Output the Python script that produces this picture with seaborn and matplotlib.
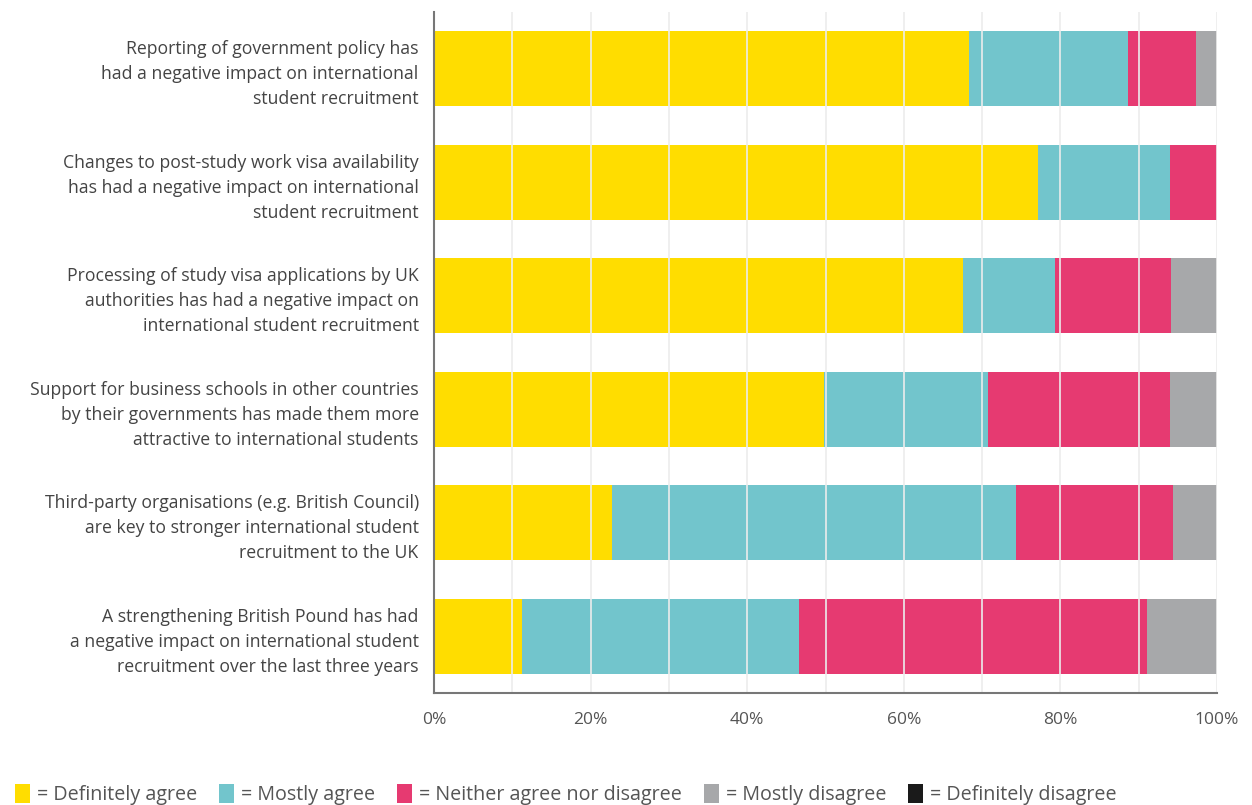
import matplotlib
matplotlib.use("Agg")
import matplotlib.pyplot as plt
from matplotlib.patches import Patch
import seaborn as sns
import pandas as pd
import numpy as np

categories = [
    "Reporting of government policy has\nhad a negative impact on international\nstudent recruitment",
    "Changes to post-study work visa availability\nhas had a negative impact on international\nstudent recruitment",
    "Processing of study visa applications by UK\nauthorities has had a negative impact on\ninternational student recruitment",
    "Support for business schools in other countries\nby their governments has made them more\nattractive to international students",
    "Third-party organisations (e.g. British Council)\nare key to stronger international student\nrecruitment to the UK",
    "A strengthening British Pound has had\na negative impact on international student\nrecruitment over the last three years",
]
series_names = ["Definitely agree", "Mostly agree", "Neither agree nor disagree",
                "Mostly disagree", "Definitely disagree"]
definitely_agree = [68.3, 77.1, 67.6, 49.8, 22.7, 11.2]
mostly_agree = [20.3, 16.9, 11.7, 21.0, 51.6, 35.4]
neither = [8.7, 6.0, 14.8, 23.2, 20.1, 44.5]
mostly_disagree = [2.7, 0.0, 5.9, 6.0, 5.6, 8.9]
definitely_disagree = [0.0, 0.0, 0.0, 0.0, 0.0, 0.0]
xticks = [0, 20, 40, 60, 80, 100]
xtick_labels = ["0%", "20%", "40%", "60%", "80%", "100%"]

colors = ["#FFDD00", "#72C5CC", "#E63A71", "#A7A8AA", "#1A1A1A"]

sns.set_theme(style="white")
plt.rcParams["font.family"] = ["Open Sans", "DejaVu Sans"]

series = [definitely_agree, mostly_agree, neither, mostly_disagree, definitely_disagree]
cum = np.zeros(len(categories))
cums = []
for s in series:
    cum = cum + np.array(s)
    cums.append(cum.copy())

fig = plt.figure(figsize=(12.52, 8.05), dpi=100)
ax = fig.add_axes([434 / 1252, 1 - 693 / 805, (1217 - 434) / 1252, (693 - 12) / 805])

for name, c, col in reversed(list(zip(series_names, cums, colors))):
    d = pd.DataFrame({"category": categories, "value": c})
    sns.barplot(data=d, y="category", x="value", orient="h", color=col,
                width=0.66, ax=ax, saturation=1, linewidth=0, zorder=2)

ax.set_xlim(0, 100)
ax.set_ylim(5.5, -0.5)
for v in range(10, 101, 10):
    ax.axvline(v, color="#ececec", lw=1.2, zorder=3)

ax.set_xticks(xticks)
ax.set_xticklabels(xtick_labels)
ax.set_xlabel("")
ax.set_ylabel("")
ax.tick_params(axis="x", labelsize=12.5, colors="#555555", pad=14, length=0)
ax.tick_params(axis="y", labelsize=12.7, colors="#444444", pad=11, length=0)
for lbl in ax.get_yticklabels():
    lbl.set_horizontalalignment("right")
    lbl.set_multialignment("right")
    lbl.set_linespacing(1.5)
for sp in ["top", "right"]:
    ax.spines[sp].set_visible(False)
for sp in ["left", "bottom"]:
    ax.spines[sp].set_color("#777777")
    ax.spines[sp].set_linewidth(1.5)
    ax.spines[sp].set_zorder(4)

handles = [Patch(facecolor=col, edgecolor="none") for col in colors]
labels = ["= " + n for n in series_names]
fig.legend(handles, labels, loc="lower left", bbox_to_anchor=(-0.002, -0.022), ncol=5,
           frameon=False, fontsize=14.2, handlelength=0.75, handleheight=1.1,
           handletextpad=0.35, columnspacing=1.12, labelcolor="#555555")

fig.savefig("out.png", dpi=100, facecolor="white")
